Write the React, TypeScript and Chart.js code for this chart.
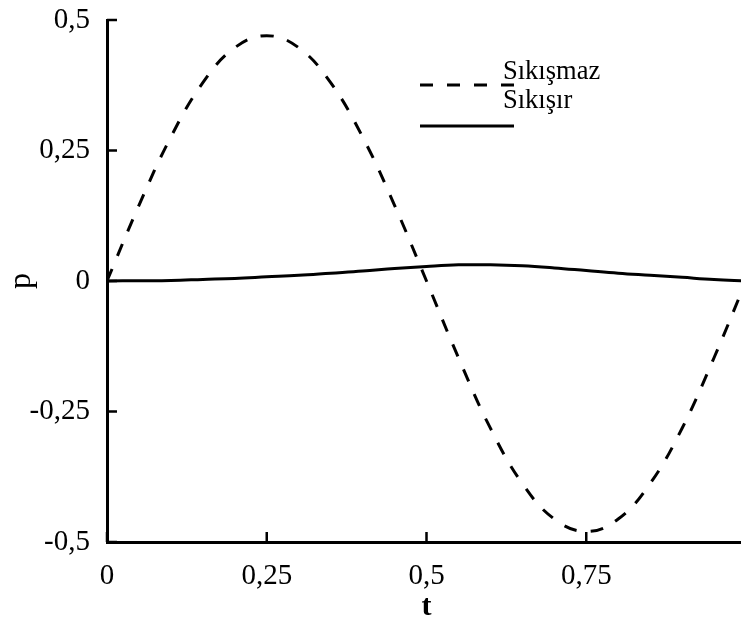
import { useEffect, useRef } from "react";
import { Chart, registerables } from "chart.js";

Chart.register(...registerables);

const T = [0, 0.05, 0.1, 0.15, 0.2, 0.25, 0.3, 0.35, 0.4, 0.45, 0.5, 0.55, 0.6, 0.65, 0.7, 0.75, 0.8, 0.85, 0.9, 0.95, 1];
const SIKISMAZ = [0, 0.145, 0.276, 0.38, 0.447, 0.47, 0.447, 0.38, 0.276, 0.145, 0.0, -0.147, -0.282, -0.388, -0.456, -0.48, -0.456, -0.388, -0.282, -0.147, 0];
const SIKISIR = [0, 0.0005, 0.001, 0.003, 0.005, 0.008, 0.011, 0.015, 0.019, 0.024, 0.028, 0.031, 0.031, 0.029, 0.025, 0.02, 0.015, 0.011, 0.007, 0.003, 0];
const X_TICKS = [0, 0.25, 0.5, 0.75, 1];
const Y_TICKS = [-0.5, -0.25, 0, 0.25, 0.5];
const SERIES_LABELS = ["Sıkışmaz", "Sıkışır"];
const X_TITLE = "t";
const Y_TITLE = "p";

const FONT = '"Liberation Serif", "Times New Roman", serif';
const fmt = (v: number) => String(v).replace(".", ",");

const tickPlugin = {
  id: "inwardTicks",
  afterDraw(chart: any) {
    const ctx = chart.ctx;
    const { left, bottom } = chart.chartArea;
    const xs = chart.scales.x;
    const ys = chart.scales.y;
    ctx.save();
    ctx.strokeStyle = "#000";
    ctx.lineWidth = 2.5;
    ctx.beginPath();
    Y_TICKS.forEach((v) => {
      const y = ys.getPixelForValue(v);
      ctx.moveTo(left, y);
      ctx.lineTo(left + 10, y);
    });
    X_TICKS.forEach((v) => {
      const x = xs.getPixelForValue(v);
      ctx.moveTo(x, bottom);
      ctx.lineTo(x, bottom - 10);
    });
    ctx.stroke();

    // legend
    const lx0 = 420, lx1 = 514;
    ctx.lineWidth = 3;
    ctx.setLineDash([13, 14]);
    ctx.beginPath();
    ctx.moveTo(lx0, 85);
    ctx.lineTo(lx1, 85);
    ctx.stroke();
    ctx.setLineDash([]);
    ctx.beginPath();
    ctx.moveTo(lx0, 126);
    ctx.lineTo(lx1, 126);
    ctx.stroke();
    ctx.fillStyle = "#000";
    ctx.font = `26.5px ${FONT}`;
    ctx.textAlign = "left";
    ctx.textBaseline = "alphabetic";
    ctx.fillText(SERIES_LABELS[0], 503, 79);
    ctx.fillText(SERIES_LABELS[1], 503, 108);
    ctx.restore();
  },
};

export default function App() {
  const ref = useRef<HTMLCanvasElement | null>(null);
  useEffect(() => {
    document.documentElement.style.overflow = "hidden";
    document.body.style.overflow = "hidden";
    const chart = new Chart(ref.current as HTMLCanvasElement, {
      type: "line",
      data: {
        datasets: [
          {
            label: SERIES_LABELS[0],
            data: T.map((t, i) => ({ x: t, y: SIKISMAZ[i] })),
            borderColor: "#000",
            borderWidth: 3,
            borderDash: [13, 14],
            pointRadius: 0,
            tension: 0.4,
            fill: false,
          },
          {
            label: SERIES_LABELS[1],
            data: T.map((t, i) => ({ x: t, y: SIKISIR[i] })),
            borderColor: "#000",
            borderWidth: 3,
            pointRadius: 0,
            tension: 0.4,
            fill: false,
          },
        ],
      },
      options: {
        animation: false,
        responsive: false,
        maintainAspectRatio: false,
        layout: { padding: { left: 0, right: 14, top: 20, bottom: 0 } },
        plugins: { legend: { display: false }, tooltip: { enabled: false } },
        scales: {
          x: {
            type: "linear",
            min: 0,
            max: 1,
            afterBuildTicks: (s: any) => {
              s.ticks = X_TICKS.map((v) => ({ value: v }));
            },
            afterFit: (s: any) => {
              s.height = 85;
              s.paddingLeft = 0;
              s.paddingRight = 0;
            },
            grid: { display: false, drawTicks: false },
            border: { display: true, color: "#000", width: 3 },
            ticks: {
              color: "#000",
              padding: 17,
              maxRotation: 0,
              autoSkip: false,
              font: { family: FONT, size: 29 },
              callback: (v: any) => (v === 1 ? "" : fmt(v)),
            },
            title: {
              display: true,
              text: X_TITLE,
              color: "#000",
              padding: { top: 0, bottom: 2 },
              font: { family: FONT, size: 30, weight: "bold" },
            },
          },
          y: {
            type: "linear",
            min: -0.5,
            max: 0.5,
            afterBuildTicks: (s: any) => {
              s.ticks = Y_TICKS.map((v) => ({ value: v }));
            },
            afterFit: (s: any) => {
              s.width = 107;
              s.paddingTop = 0;
              s.paddingBottom = 0;
            },
            grid: { display: false, drawTicks: false },
            border: { display: true, color: "#000", width: 3 },
            ticks: {
              color: "#000",
              padding: 17,
              autoSkip: false,
              font: { family: FONT, size: 29 },
              callback: (v: any) => fmt(v),
            },
            title: {
              display: true,
              text: Y_TITLE,
              color: "#000",
              padding: 2,
              font: { family: FONT, size: 32 },
            },
          },
        },
      },
      plugins: [tickPlugin],
    } as any);
    return () => chart.destroy();
  }, []);
  return (
    <div style={{ position: "fixed", left: 0, top: 0, width: 760, height: 627, background: "#fff" }}>
      <canvas ref={ref} width={760} height={627} style={{ width: 760, height: 627 }} />
    </div>
  );
}
